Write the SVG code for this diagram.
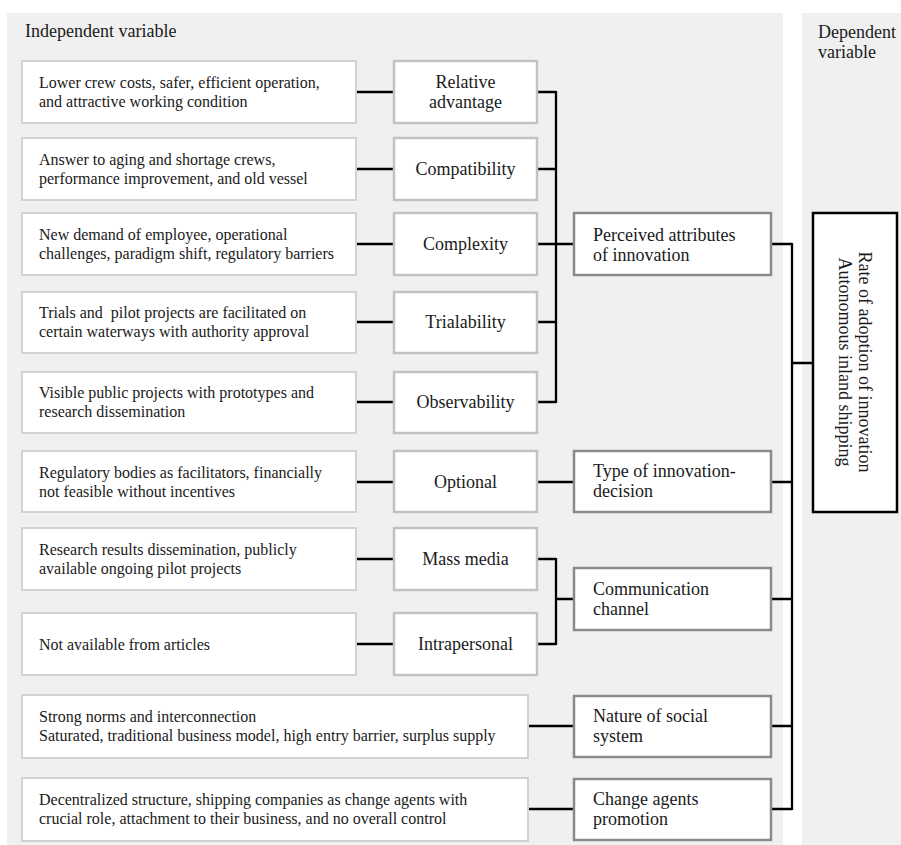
<svg xmlns="http://www.w3.org/2000/svg" width="901" height="845" viewBox="0 0 901 845" font-family="'Liberation Serif','Times New Roman',serif">
<style>
text{font-family:"Liberation Serif","Times New Roman",serif;fill:#1a1a1a}
.t16{font-size:16px}
.t18{font-size:18px}
.mid{text-anchor:middle}
.panel{fill:#f0f0f0}
.desc{fill:#fff;stroke:#d2d2d2;stroke-width:2}
.attr{fill:#fff;stroke:#c2c2c2;stroke-width:2.5}
.cat{fill:#fff;stroke:#8a8a8a;stroke-width:2.5}
.dep{fill:#fff;stroke:#000;stroke-width:2.5}
.con{fill:none;stroke:#000;stroke-width:2.3}
</style>
<rect width="901" height="845" fill="#fff"/>
<g id="panel-independent">
<rect class="panel" x="7" y="13" width="776" height="832"/>
<text class="t18" x="25" y="37">Independent variable</text>
</g>
<g id="panel-dependent">
<rect class="panel" x="802" y="13" width="99" height="832"/>
<text class="t18" x="818" y="38">Dependent</text>
<text class="t18" x="818" y="58">variable</text>
</g>
<g id="connectors">
<path class="con" d="M356 92H394M356 169H394M356 244H394M356 322H394M356 402H394M356 482H394M356 559H394M356 644H394M528 726H574M528 809H574"/>
<path class="con" d="M537 92H556M537 169H556M537 244H556M537 322H556M537 402H556M556 91V403M556 244H574"/>
<path class="con" d="M537 482H574"/>
<path class="con" d="M537 559H556M537 644H556M556 558V645M556 599H574"/>
<path class="con" d="M771 244H792M771 482H792M771 599H792M771 726H792M771 809H792M792 243V810M792 363H813"/>
</g>
<g id="desc-1"><rect class="desc" x="22" y="61" width="334" height="62"/>
<text class="t16" x="39" y="87.5">Lower crew costs, safer, efficient operation,</text>
<text class="t16" x="39" y="106.5">and attractive working condition</text></g>
<g id="desc-2"><rect class="desc" x="22" y="138" width="334" height="62"/>
<text class="t16" x="39" y="164.5">Answer to aging and shortage crews,</text>
<text class="t16" x="39" y="183.5">performance improvement, and old vessel</text></g>
<g id="desc-3"><rect class="desc" x="22" y="213" width="334" height="62"/>
<text class="t16" x="39" y="239.5">New demand of employee, operational</text>
<text class="t16" x="39" y="258.5">challenges, paradigm shift, regulatory barriers</text></g>
<g id="desc-4"><rect class="desc" x="22" y="292" width="334" height="61"/>
<text class="t16" x="39" y="318" xml:space="preserve" style="white-space:pre">Trials and  pilot projects are facilitated on</text>
<text class="t16" x="39" y="337">certain waterways with authority approval</text></g>
<g id="desc-5"><rect class="desc" x="22" y="372" width="334" height="61"/>
<text class="t16" x="39" y="397.5">Visible public projects with prototypes and</text>
<text class="t16" x="39" y="416.5">research dissemination</text></g>
<g id="desc-6"><rect class="desc" x="22" y="451" width="334" height="61"/>
<text class="t16" x="39" y="477.5">Regulatory bodies as facilitators, financially</text>
<text class="t16" x="39" y="496.5">not feasible without incentives</text></g>
<g id="desc-7"><rect class="desc" x="22" y="528" width="334" height="62"/>
<text class="t16" x="39" y="554.5">Research results dissemination, publicly</text>
<text class="t16" x="39" y="573.5">available ongoing pilot projects</text></g>
<g id="desc-8"><rect class="desc" x="22" y="613" width="334" height="62"/>
<text class="t16" x="39" y="649.5">Not available from articles</text></g>
<g id="desc-9"><rect class="desc" x="22" y="695" width="506" height="63"/>
<text class="t16" x="39" y="722">Strong norms and interconnection</text>
<text class="t16" x="39" y="741">Saturated, traditional business model, high entry barrier, surplus supply</text></g>
<g id="desc-10"><rect class="desc" x="22" y="778" width="506" height="63"/>
<text class="t16" x="39" y="805">Decentralized structure, shipping companies as change agents with</text>
<text class="t16" x="39" y="824">crucial role, attachment to their business, and no overall control</text></g>
<g id="relative-advantage"><rect class="attr" x="394" y="61" width="143" height="62"/>
<text class="t18 mid" x="465.5" y="88">Relative</text>
<text class="t18 mid" x="465.5" y="108">advantage</text></g>
<g id="compatibility"><rect class="attr" x="394" y="138" width="143" height="62"/>
<text class="t18 mid" x="465.5" y="175">Compatibility</text></g>
<g id="complexity"><rect class="attr" x="394" y="213" width="143" height="62"/>
<text class="t18 mid" x="465.5" y="250">Complexity</text></g>
<g id="trialability"><rect class="attr" x="394" y="292" width="143" height="61"/>
<text class="t18 mid" x="465.5" y="328">Trialability</text></g>
<g id="observability"><rect class="attr" x="394" y="372" width="143" height="61"/>
<text class="t18 mid" x="465.5" y="408">Observability</text></g>
<g id="optional"><rect class="attr" x="394" y="451" width="143" height="61"/>
<text class="t18 mid" x="465.5" y="488">Optional</text></g>
<g id="mass-media"><rect class="attr" x="394" y="528" width="143" height="62"/>
<text class="t18 mid" x="465.5" y="565">Mass media</text></g>
<g id="intrapersonal"><rect class="attr" x="394" y="613" width="143" height="62"/>
<text class="t18 mid" x="465.5" y="650">Intrapersonal</text></g>
<g id="perceived-attributes"><rect class="cat" x="574" y="213" width="197" height="62"/>
<text class="t18" x="593" y="240.5">Perceived attributes</text>
<text class="t18" x="593" y="260.5">of innovation</text></g>
<g id="type-of-decision"><rect class="cat" x="574" y="451" width="197" height="61"/>
<text class="t18" x="593" y="477">Type of innovation-</text>
<text class="t18" x="593" y="497">decision</text></g>
<g id="communication-channel"><rect class="cat" x="574" y="568" width="197" height="62"/>
<text class="t18" x="593" y="595">Communication</text>
<text class="t18" x="593" y="615">channel</text></g>
<g id="nature-social-system"><rect class="cat" x="574" y="696" width="197" height="61"/>
<text class="t18" x="593" y="722">Nature of social</text>
<text class="t18" x="593" y="742">system</text></g>
<g id="change-agents"><rect class="cat" x="574" y="779" width="197" height="61"/>
<text class="t18" x="593" y="805">Change agents</text>
<text class="t18" x="593" y="825">promotion</text></g>
<g id="rate-of-adoption"><rect class="dep" x="813" y="213" width="84" height="299"/>
<g transform="translate(855,362) rotate(90)">
<text class="t18 mid" x="0" y="-4">Rate of adoption of innovation</text>
<text class="t18 mid" x="0" y="16">Autonomous inland shipping</text>
</g></g>
</svg>
